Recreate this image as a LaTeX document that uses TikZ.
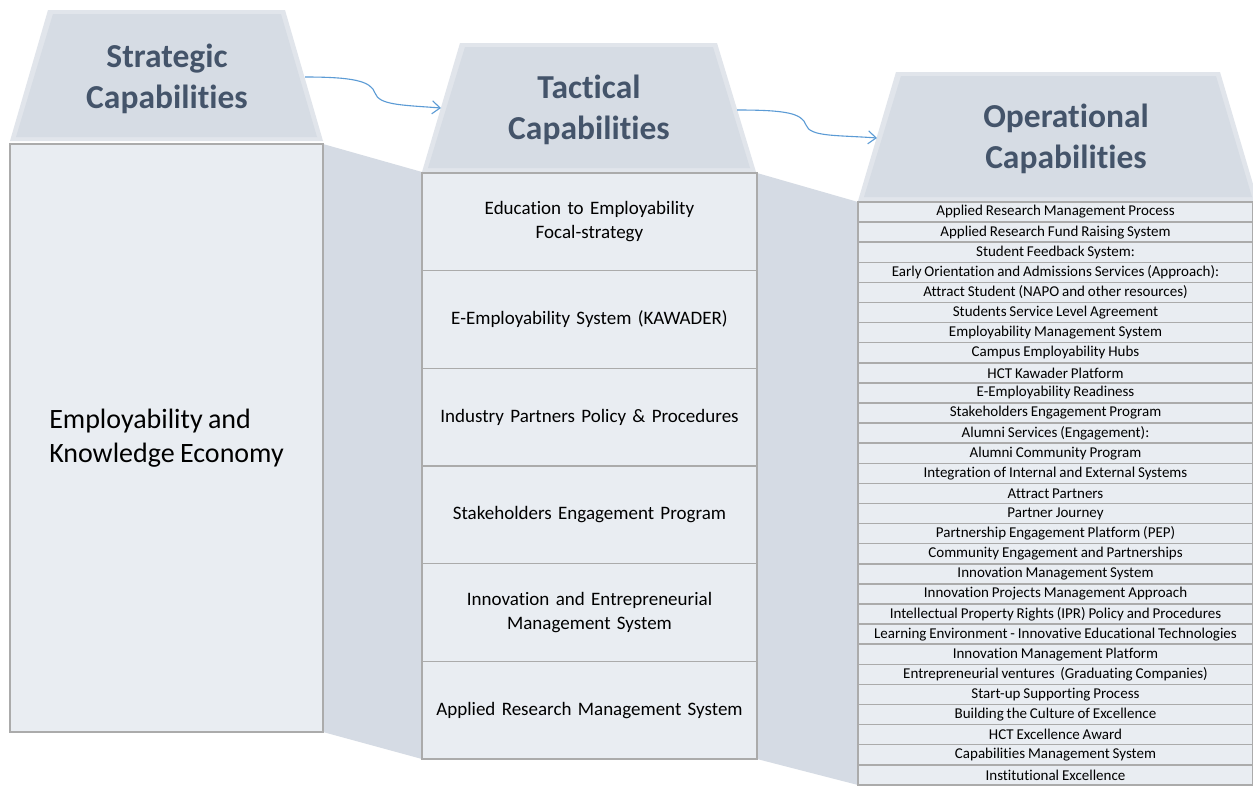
\documentclass[tikz,border=0pt]{standalone}
\usepackage{fontspec}
\setmainfont[Ligatures={NoCommon}, WordSpace={0.85}]{Carlito}
\usetikzlibrary{arrows.meta}
\definecolor{headfill}{HTML}{D6DCE4}
\definecolor{headedge}{HTML}{E1E5EB}
\definecolor{bodyfill}{HTML}{E9EDF2}
\definecolor{funnelfill}{HTML}{D5DBE4}
\definecolor{framegray}{HTML}{ABABAB}
\definecolor{headtext}{HTML}{44546A}
\definecolor{flowblue}{HTML}{5B9BD5}

\tikzset{
  headtitle/.style={font=\fontsize{33.5}{41}\selectfont\bfseries, text=headtext, align=center},
  framebox/.style={draw=framegray, line width=1.5pt, fill=bodyfill, inner sep=0pt},
  tactrow/.style={framebox, minimum width=335pt, minimum height=97.67pt, text width=320pt, align=center, font=\fontsize{19}{24}\selectfont},
  oprow/.style={framebox, minimum width=395pt, minimum height=20.1pt, font=\fontsize{15}{18}\selectfont},
  flow/.style={flowblue, line width=1.1pt, -{Straight Barb[length=8pt,width=13pt]}}
}

\begin{document}
\begin{tikzpicture}[x=1pt, y=-1pt]
  \clip (0,0) rectangle (1253,785);
  \fill[white] (0,0) rectangle (1253,785);
  % Funnels between the columns
  \fill[funnelfill] (323,144) -- (422,172) -- (422,759) -- (323,732) -- cycle;
  \fill[funnelfill] (757,173) -- (858,202) -- (858,785) -- (757,759) -- cycle;
  % Header blocks
  \fill[headedge] (48,10) -- (285,10) -- (323,141) -- (10,141) -- cycle;
  \fill[headfill] (53,14) -- (281,14) -- (317,137) -- (16,137) -- cycle;
  \fill[headedge] (460,43) -- (717,43) -- (756,172) -- (422,172) -- cycle;
  \fill[headfill] (465,47) -- (713,47) -- (750,168) -- (428,168) -- cycle;
  \fill[headedge] (896,72) -- (1220,72) -- (1258,201) -- (858,201) -- cycle;
  \fill[headfill] (901,76) -- (1216,76) -- (1252,197) -- (864,197) -- cycle;
  \node[headtitle] (strathead) at (167,79) {Strategic\\Capabilities};
  \node[headtitle] (tacthead) at (589,110) {Tactical\\Capabilities};
  \node[headtitle] (ophead) at (1066,139) {Operational\\Capabilities};
  % Strategic column
  \node[framebox, minimum width=313pt, minimum height=588pt, align=left,
        font=\fontsize{28}{34}\selectfont] (stratbody) at (166.5,438)
        {Employability and\\Knowledge Economy};
  % Tactical column
  \foreach \txt [count=\i from 0] in {
      {Education to Employability\\Focal-strategy},
      {E-Employability System (KAWADER)},
      {Industry Partners Policy \& Procedures},
      {Stakeholders Engagement Program},
      {Innovation and Entrepreneurial\\Management System},
      {Applied Research Management System}} {
    \node[tactrow] (tact\i) at (589.5,{173+97.67*\i+48.8}) {\txt};
  }
  % Operational column
  \foreach \txt [count=\i from 0] in {
      Applied Research Management Process,
      Applied Research Fund Raising System,
      Student Feedback System:,
      Early Orientation and Admissions Services (Approach):,
      Attract Student (NAPO and other resources),
      Students Service Level Agreement,
      Employability Management System,
      Campus Employability Hubs,
      HCT Kawader Platform,
      E-Employability Readiness,
      Stakeholders Engagement Program,
      Alumni Services (Engagement):,
      Alumni Community Program,
      Integration of Internal and External Systems,
      Attract Partners,
      Partner Journey,
      Partnership Engagement Platform (PEP),
      Community Engagement and Partnerships,
      Innovation Management System,
      Innovation Projects Management Approach,
      Intellectual Property Rights (IPR) Policy and Procedures,
      Learning Environment - Innovative Educational Technologies,
      Innovation Management Platform,
      Entrepreneurial ventures\ \ (Graduating Companies),
      Start-up Supporting Process,
      Building the Culture of Excellence,
      HCT Excellence Award,
      Capabilities Management System,
      Institutional Excellence} {
    \node[oprow] (op\i) at (1055.5,{202+20.1*\i+10.05}) {\txt};
  }
  % Flow arrows between headers
  \coordinate (s1) at (305,77);
  \coordinate (m1) at (375,93);
  \coordinate (e1) at (441,108);
  \coordinate (s2) at (737,110);
  \coordinate (m2) at (806,125);
  \coordinate (e2) at (877,138);
  \draw[flow] (s1) .. controls +(48,0) and +(-4,-12) .. (m1)
                   .. controls +(4,12) and +(-40,-3) .. (e1);
  \draw[flow] (s2) .. controls +(48,0) and +(-4,-12) .. (m2)
                   .. controls +(4,12) and +(-40,-3) .. (e2);
\end{tikzpicture}
\end{document}
